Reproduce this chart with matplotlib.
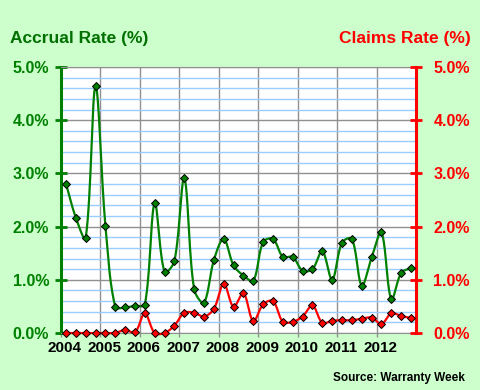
import numpy as np
import matplotlib
matplotlib.use('Agg')
import matplotlib.pyplot as plt
import matplotlib.transforms as mtransforms
from matplotlib.ticker import MultipleLocator, FuncFormatter

plt.rcParams['font.family'] = ['Liberation Sans', 'DejaVu Sans']

years = list(range(2004, 2013))

# quarterly values, 2004 Q1 .. 2012 Q4
accrual = [2.81, 2.17, 1.78, 4.64, 2.02, 0.49, 0.48, 0.51, 0.53, 2.44, 1.15, 1.35,
           2.91, 0.82, 0.57, 1.37, 1.77, 1.27, 1.08, 0.98, 1.71, 1.77, 1.43, 1.43,
           1.17, 1.20, 1.54, 1.00, 1.70, 1.77, 0.89, 1.42, 1.89, 0.63, 1.13, 1.22]
claims = [0.00, 0.00, 0.00, 0.00, 0.00, 0.00, 0.06, 0.01, 0.37, 0.00, 0.00, 0.14,
          0.38, 0.38, 0.31, 0.45, 0.93, 0.49, 0.75, 0.22, 0.54, 0.60, 0.21, 0.21,
          0.31, 0.52, 0.19, 0.23, 0.24, 0.24, 0.27, 0.29, 0.17, 0.37, 0.32, 0.28]

x = 2004 + (np.arange(len(accrual)) + 0.5) / 4

# px per data unit, used only to shape the smoothing
XS, YS = 39.4, 53.2


def smooth(xs, ys, n=16):
    # bezier smoothing with chord-length scaled tangents (spreadsheet-like)
    P = np.column_stack([np.asarray(xs, float) * XS, np.asarray(ys, float) * YS])
    t = np.linspace(0, 1, n, endpoint=False)[:, None]
    out = []
    m = len(P)
    for i in range(m - 1):
        p0 = P[i - 1] if i > 0 else P[i]
        p1, p2 = P[i], P[i + 1]
        p3 = P[i + 2] if i + 2 < m else P[i + 1]
        d01 = np.hypot(*(p1 - p0))
        d12 = np.hypot(*(p2 - p1))
        d23 = np.hypot(*(p3 - p2))
        c1 = p1 + (p2 - p0) * d12 / (d01 + d12) / 3
        c2 = p2 - (p3 - p1) * d12 / (d12 + d23) / 3
        out.append((1 - t) ** 3 * p1 + 3 * (1 - t) ** 2 * t * c1
                   + 3 * (1 - t) * t ** 2 * c2 + t ** 3 * p2)
    out.append(P[-1:])
    out = np.vstack(out)
    return out[:, 0] / XS, out[:, 1] / YS


green = '#008000'
red = '#ff0000'

fig = plt.figure(figsize=(4.8, 3.9), dpi=100, facecolor='#ccffcc')
ax = fig.add_axes([61 / 480, 57 / 390, 355 / 480, 266 / 390])
ax.set_facecolor('white')
ax2 = ax.twinx()

for a in (ax, ax2):
    a.set_ylim(0, 5)
    a.set_xlim(2004, 2013)

ax.yaxis.set_major_locator(MultipleLocator(1))
ax.yaxis.set_minor_locator(MultipleLocator(0.2))
ax2.yaxis.set_major_locator(MultipleLocator(1))
ax.grid(which='minor', axis='y', color='#99ccff', linewidth=1)
ax.grid(which='major', axis='y', color='#909090', linewidth=1)
ax.set_xticks(years)
ax.grid(which='major', axis='x', color='#909090', linewidth=1)
ax.set_axisbelow(True)
ax.tick_params(axis='y', which='minor', length=0)

fmt = FuncFormatter(lambda v, p: f'{v:.1f}%')
ax.yaxis.set_major_formatter(fmt)
ax2.yaxis.set_major_formatter(fmt)

ax.spines['top'].set_color('#909090')
ax2.spines['top'].set_visible(False)
ax.spines['bottom'].set_color('#909090')
ax2.spines['bottom'].set_visible(False)
ax.spines['right'].set_visible(False)
ax2.spines['left'].set_visible(False)
ax.spines['left'].set_color(green)
ax.spines['left'].set_linewidth(2.2)
ax2.spines['right'].set_color(red)
ax2.spines['right'].set_linewidth(2.2)

ax.tick_params(axis='y', which='major', direction='inout', length=9, width=2,
               color=green, labelcolor=green, labelsize=11.5, pad=4)
ax2.tick_params(axis='y', which='major', direction='inout', length=9, width=2,
                color=red, labelcolor=red, labelsize=11.5, pad=8)
ax.tick_params(axis='x', which='major', direction='out', length=3, width=1,
               color='#909090', labelsize=11, pad=3)
for lab in ax.get_yticklabels() + ax2.get_yticklabels() + ax.get_xticklabels():
    lab.set_fontweight('bold')
offset = mtransforms.ScaledTranslation(4 / 100, 0, fig.dpi_scale_trans)
for lab in ax.get_xticklabels():
    lab.set_transform(lab.get_transform() + offset)

sx, sy = smooth(x, accrual)
ax2.plot(sx, sy, color=green, linewidth=1.6, zorder=3)
ax2.plot(x, accrual, linestyle='none', marker='D', markersize=4.5,
         markerfacecolor=green, markeredgecolor='black', markeredgewidth=0.7, zorder=4)
cx, cy = smooth(x, claims)
ax2.plot(cx, cy, color=red, linewidth=1.6, zorder=3)
ax2.plot(x, claims, linestyle='none', marker='D', markersize=4.5,
         markerfacecolor=red, markeredgecolor='black', markeredgewidth=0.7, zorder=4)
for a in (ax, ax2):
    for line in a.get_lines():
        line.set_clip_on(False)

fig.text(10 / 480, 1 - 38 / 390, 'Accrual Rate (%)', color='#007000', fontsize=12.5,
         fontweight='bold', ha='left', va='center')
fig.text(471 / 480, 1 - 38 / 390, 'Claims Rate (%)', color=red, fontsize=12.5,
         fontweight='bold', ha='right', va='center')
fig.text(465 / 480, 1 - 378 / 390, 'Source: Warranty Week', color='black', fontsize=8.5,
         fontweight='bold', ha='right', va='center')

fig.savefig('out.png', dpi=100, facecolor=fig.get_facecolor())
